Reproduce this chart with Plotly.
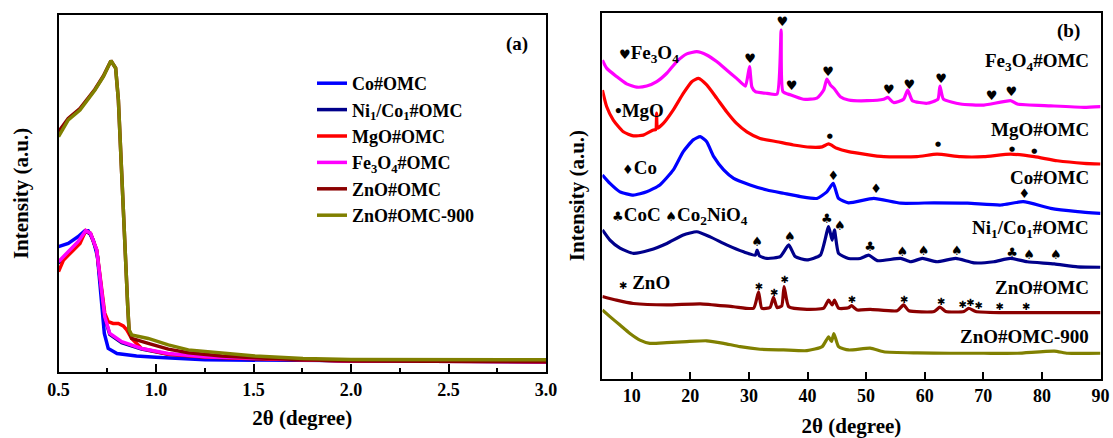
import plotly.graph_objects as go

# ---------------- Panel (a): small-angle XRD ----------------
a_co_x = [0.50, 0.55, 0.60, 0.635, 0.652, 0.678, 0.70, 0.718, 0.735, 0.755, 0.80, 0.90, 1.0, 1.25, 1.75, 2.0, 3.0]
a_co_y = [35.1, 36.0, 37.9, 39.6, 39.6, 37.0, 32.3, 22.0, 10.8, 6.6, 5.2, 4.5, 4.1, 3.4, 3.2, 3.1, 2.9]

a_fe_x = [0.50, 0.55, 0.60, 0.64, 0.664, 0.696, 0.72, 0.737, 0.763, 0.824, 0.926, 1.063, 1.25, 1.51, 2.0, 3.0]
a_fe_y = [30.9, 33.7, 36.5, 39.6, 38.9, 34.2, 23.0, 15.5, 10.8, 8.5, 6.6, 5.2, 4.3, 3.8, 3.1, 2.9]
a_nico_y = [30.5, 33.4, 36.3, 39.4, 38.7, 34.0, 22.8, 15.2, 10.5, 8.2, 6.4, 5.0, 4.2, 3.7, 3.1, 2.9]

a_mgo_x = [0.50, 0.526, 0.568, 0.61, 0.64, 0.664, 0.696, 0.72, 0.737, 0.755, 0.78, 0.807, 0.832, 0.85,
           0.875, 0.926, 1.063, 1.25, 1.51, 2.0, 3.0]
a_mgo_y = [28.1, 31.4, 33.7, 36.0, 39.6, 38.9, 34.2, 23.0, 16.5, 14.1, 13.6, 13.6, 12.9, 11.8,
           9.4, 6.6, 5.0, 4.2, 3.7, 3.1, 2.9]

a_zno_x = [0.50, 0.55, 0.61, 0.687, 0.73, 0.769, 0.793, 0.807, 0.824, 0.841, 0.855, 0.862, 0.875,
           0.96, 1.063, 1.166, 1.337, 1.508, 1.754, 2.0, 3.0]
a_zno_y = [67.3, 71.0, 73.8, 79.2, 82.9, 87.2, 85.1, 76.2, 55.7, 32.3, 18.3, 11.5, 9.4,
           8.0, 6.4, 5.4, 4.5, 4.0, 3.4, 3.1, 2.9]
a_zno9_y = [65.9, 70.6, 73.4, 79.0, 82.7, 87.2, 85.1, 76.2, 55.7, 32.3, 18.3, 11.8, 10.4,
            9.4, 7.6, 6.2, 5.3, 4.5, 3.8, 3.5, 3.4]

# ---------------- Panel (b): wide-angle XRD (stacked) ----------------
b_fe_x = [5.0, 5.72, 7.43, 9.14, 10.85, 12.56, 14.27, 15.98, 17.69, 19.4, 21.1, 22.8, 24.5, 26.2, 27.9,
          29.4, 30.1, 30.5, 31.1, 33.1, 34.8, 35.5, 35.8, 37.06, 39.3, 41.6, 42.76, 43.3, 43.9, 44.6,
          45.6, 47.0, 50.2, 53.0, 53.7, 54.7, 56.4, 57.1, 57.9, 60.4, 62.25, 62.6, 63.2, 66.1, 70.1,
          71.3, 74.7, 75.8, 81.5, 87.2, 90.0]
b_fe_y = [87.0, 84.8, 82.5, 80.5, 79.6, 79.9, 81.1, 83.4, 86.6, 88.7, 89.3, 88.4, 86.6, 84.3, 82.0,
          79.9, 85.2, 79.7, 78.4, 77.9, 77.7, 95.2, 78.4, 77.5, 76.3, 76.6, 78.8, 81.8, 80.2, 79.1,
          77.0, 76.1, 75.9, 76.3, 76.8, 75.4, 76.3, 78.8, 75.9, 75.2, 76.3, 79.9, 76.3, 75.0, 74.7,
          75.0, 75.9, 75.0, 74.5, 74.1, 74.3]

b_mgo_x = [5.0, 5.72, 6.86, 8.57, 10.28, 11.99, 13.7, 14.1, 14.25, 14.4, 15.4, 17.1, 18.8, 20.25, 21.4,
           22.8, 24.5, 26.2, 27.9, 29.65, 31.9, 34.8, 37.6, 40.5, 42.5, 43.6, 45.0, 47.0, 53.0, 58.7,
           62.1, 66.1, 70.1, 74.7, 78.7, 82.6, 87.2, 90.0]
b_mgo_y = [78.8, 74.3, 70.6, 67.4, 66.3, 66.5, 67.9, 68.0, 72.5, 68.4, 69.7, 73.4, 77.9, 81.1, 82.0,
           80.2, 76.6, 72.9, 69.7, 67.4, 65.6, 64.7, 63.8, 63.2, 63.3, 64.1, 62.9, 62.0, 60.6, 60.6,
           61.3, 60.6, 60.6, 61.3, 60.6, 59.5, 58.8, 58.6]

b_co_x = [5.0, 6.29, 8.0, 10.28, 12.56, 14.8, 17.1, 18.8, 20.5, 21.7, 22.8, 24.0, 25.7, 27.4, 30.2,
          33.1, 35.9, 38.8, 41.6, 43.3, 44.4, 45.3, 47.0, 51.3, 55.9, 61.6, 67.3, 73.0, 76.8, 81.5,
          86.1, 90.0]
b_co_y = [55.6, 53.3, 51.0, 50.1, 51.0, 52.9, 57.0, 62.0, 65.2, 66.1, 64.7, 60.6, 57.0, 54.7, 52.9,
          51.5, 50.6, 49.7, 49.2, 51.0, 53.3, 49.2, 48.0, 49.2, 47.9, 48.0, 47.9, 47.4, 48.3, 46.5,
          45.6, 45.1]

b_nico_x = [5.0, 6.29, 8.0, 10.28, 13.1, 16.0, 18.8, 21.1, 23.4, 26.2, 29.1, 31.1, 31.4, 31.8, 33.1,
            35.35, 36.8, 37.9, 39.9, 42.2, 43.6, 44.2, 44.6, 45.3, 47.0, 49.0, 50.45, 51.9, 55.9,
            57.6, 59.6, 62.1, 65.3, 68.4, 71.8, 74.6, 77.5, 82.1, 86.1, 90.0]
b_nico_y = [40.6, 37.8, 35.6, 34.2, 35.1, 36.9, 39.2, 40.1, 38.7, 36.5, 34.6, 33.7, 35.1, 33.5, 32.8,
            33.3, 36.5, 33.3, 32.4, 33.7, 41.5, 37.8, 40.6, 34.2, 32.8, 32.8, 33.7, 32.2, 32.8,
            31.9, 32.8, 31.9, 32.8, 31.6, 31.9, 32.8, 31.9, 31.3, 30.5, 30.4]

b_zno_x = [5.0, 7.4, 10.28, 16.0, 21.7, 27.4, 30.8, 31.65, 32.2, 33.6, 34.2, 34.8, 35.6, 36.0, 36.8,
           39.9, 42.76, 43.6, 44.2, 44.6, 45.3, 47.0, 47.5, 48.5, 50.7, 55.3, 56.4, 57.3, 61.6, 62.6,
           63.6, 66.7, 67.5, 68.7, 73.0, 81.5, 90.0]
b_zno_y = [22.4, 21.4, 20.5, 20.1, 20.4, 19.6, 19.2, 23.7, 19.2, 19.4, 22.2, 19.4, 19.8, 25.1, 19.6,
           18.9, 19.2, 21.4, 20.1, 21.4, 19.2, 19.3, 19.9, 18.7, 18.9, 18.5, 20.1, 18.5, 18.3, 19.5,
           18.3, 18.3, 19.2, 18.3, 18.0, 18.0, 18.0]

b_zno9_x = [5.0, 6.29, 8.0, 9.7, 11.4, 13.1, 16.0, 19.4, 22.8, 25.7, 28.5, 31.9, 35.9, 39.9, 42.5,
            43.6, 44.1, 44.5, 45.3, 47.0, 50.7, 53.0, 58.7, 64.4, 70.1, 75.8, 82.1, 84.4, 90.0]
b_zno9_y = [18.7, 16.9, 14.6, 12.3, 10.5, 9.6, 9.8, 10.1, 10.3, 9.6, 8.7, 8.0, 7.8, 7.6, 8.7,
            11.4, 10.1, 12.3, 8.7, 7.8, 8.3, 7.3, 7.0, 6.9, 6.9, 6.9, 7.5, 6.9, 6.9]

# peak markers
fe_pk_x = [30.2, 35.7, 37.3, 43.5, 53.9, 57.4, 62.8, 71.4, 74.8]
fe_pk_y = [87.0, 97.2, 79.8, 83.5, 78.6, 80.1, 81.7, 77.1, 78.0]
mgo_pk_x = [43.8, 62.3, 74.9, 78.7]
mgo_pk_y = [66.1, 63.9, 62.6, 62.1]
co_pk_x = [44.4, 51.7, 77.0]
co_pk_y = [55.2, 51.6, 50.2]
nico_pk_x = [31.4, 37.0, 43.3, 45.5, 50.7, 56.2, 59.8, 65.5, 74.9, 77.8, 82.4]
nico_pk_y = [37.2, 38.5, 43.5, 41.4, 35.6, 34.4, 34.7, 34.7, 34.2, 33.5, 33.5]
nico_pk_s = ["♠", "♠", "♣", "♠", "♣", "♠", "♠", "♠", "♣", "♠", "♠"]
zno_pk_x = [31.7, 34.3, 36.1, 47.6, 56.5, 62.8, 66.5, 67.8, 69.2, 72.8, 77.3]
zno_pk_y = [24.8, 23.2, 26.7, 21.4, 21.4, 20.7, 20.0, 20.5, 19.8, 19.5, 19.3]

names = ["Co#OMC", "Ni<sub>1</sub>/Co<sub>1</sub>#OMC", "MgO#OMC", "Fe<sub>3</sub>O<sub>4</sub>#OMC",
         "ZnO#OMC", "ZnO#OMC-900"]
colors = {"co": "#0000FF", "nico": "#00008B", "mgo": "#FF0000", "fe": "#FF00FF",
          "zno": "#8B0000", "zno9": "#808000"}

FONT = "Liberation Serif, Times New Roman, serif"
fig = go.Figure()

lw_a = 3.5
fig.add_trace(go.Scatter(x=a_co_x, y=a_co_y, mode="lines", name=names[0],
                         line=dict(color=colors["co"], width=lw_a), xaxis="x", yaxis="y"))
fig.add_trace(go.Scatter(x=a_fe_x, y=a_nico_y, mode="lines", name=names[1],
                         line=dict(color=colors["nico"], width=lw_a), xaxis="x", yaxis="y"))
fig.add_trace(go.Scatter(x=a_mgo_x, y=a_mgo_y, mode="lines", name=names[2],
                         line=dict(color=colors["mgo"], width=lw_a), xaxis="x", yaxis="y"))
fig.add_trace(go.Scatter(x=a_fe_x, y=a_fe_y, mode="lines", name=names[3],
                         line=dict(color=colors["fe"], width=lw_a), xaxis="x", yaxis="y"))
fig.add_trace(go.Scatter(x=a_zno_x, y=a_zno_y, mode="lines", name=names[4],
                         line=dict(color=colors["zno"], width=lw_a), xaxis="x", yaxis="y"))
fig.add_trace(go.Scatter(x=a_zno_x, y=a_zno9_y, mode="lines", name=names[5],
                         line=dict(color=colors["zno9"], width=lw_a), xaxis="x", yaxis="y"))

lw_b = 3.2
for xs, ys, c in [(b_fe_x, b_fe_y, colors["fe"]), (b_mgo_x, b_mgo_y, colors["mgo"]),
                  (b_co_x, b_co_y, colors["co"]), (b_nico_x, b_nico_y, colors["nico"]),
                  (b_zno_x, b_zno_y, colors["zno"]), (b_zno9_x, b_zno9_y, colors["zno9"])]:
    fig.add_trace(go.Scatter(x=xs, y=ys, mode="lines", showlegend=False,
                             line=dict(color=c, width=lw_b, shape="spline", smoothing=0.5),
                             xaxis="x2", yaxis="y2"))

for xs, ys, s in [(fe_pk_x, fe_pk_y, "♥"), (mgo_pk_x, mgo_pk_y, "●"), (co_pk_x, co_pk_y, "♦"),
                  (nico_pk_x, nico_pk_y, nico_pk_s), (zno_pk_x, zno_pk_y, "✱")]:
    txt = s if isinstance(s, list) else [s] * len(xs)
    size = 7 if s == "●" else (10 if s == "✱" else 13)
    fig.add_trace(go.Scatter(x=xs, y=ys, mode="text", text=txt, showlegend=False,
                             textfont=dict(family="DejaVu Sans", size=size, color="black"),
                             xaxis="x2", yaxis="y2", hoverinfo="skip"))

W, H = 1113, 438
axis_common = dict(showline=True, linecolor="black", linewidth=2, mirror=True,
                   showgrid=False, zeroline=False, automargin=False)
tickfont = dict(family=FONT, size=18, color="black", weight="bold")
titlefont = dict(family=FONT, size=21, color="black", weight="bold")
xtitle = "<b>2θ (degree)</b>"
ytitle = "<b>Intensity (a.u.)</b>"

fig.update_layout(
    width=W, height=H, margin=dict(l=0, r=0, t=0, b=0),
    paper_bgcolor="white", plot_bgcolor="white",
    font=dict(family=FONT, color="black"),
    xaxis=dict(domain=[58.5 / W, 546 / W], range=[0.5, 3.0], tick0=0.5, dtick=0.5, tickformat=".1f",
               ticks="inside", ticklen=8, tickwidth=2, tickcolor="black",
               minor=dict(dtick=0.25, ticks="inside", ticklen=4, tickwidth=2, tickcolor="black"),
               tickfont=tickfont, ticklabelstandoff=0,
               title=dict(text=xtitle, font=titlefont, standoff=12),
               anchor="y", **axis_common),
    yaxis=dict(domain=[1 - 372 / H, 1 - 15 / H], range=[0, 100], showticklabels=False, ticks="",
               title=dict(text=ytitle, font=titlefont, standoff=22),
               anchor="x", **axis_common),
    xaxis2=dict(domain=[602.4 / W, 1100.5 / W], range=[5, 90], tick0=10, dtick=10,
                ticks="inside", ticklen=7, tickwidth=2, tickcolor="black",
                tickfont=tickfont, ticklabelstandoff=0,
                title=dict(text=xtitle, font=titlefont, standoff=13),
                anchor="y2", **axis_common),
    yaxis2=dict(domain=[1 - 378.5 / H, 1 - 12.5 / H], range=[0, 100], showticklabels=False, ticks="",
                title=dict(text=ytitle, font=titlefont, standoff=10),
                anchor="x2", **axis_common),
    legend=dict(x=312 / W, y=1 - 65 / H, xanchor="left", yanchor="top",
                font=dict(family=FONT, size=18, color="black", weight="bold"),
                bgcolor="rgba(0,0,0,0)", borderwidth=0, tracegroupgap=0),
)

lab_font = dict(family=FONT, size=19, color="black", weight="bold")
ann = []
ann.append(dict(text="(a)", x=516.9 / W, y=1 - 43.8 / H, xref="paper", yref="paper",
                xanchor="center", yanchor="middle", showarrow=False, font=lab_font))
ann.append(dict(text="(b)", x=1068.8 / W, y=1 - 31 / H, xref="paper", yref="paper",
                xanchor="center", yanchor="middle", showarrow=False, font=lab_font))
right_labels = [("Fe<sub>3</sub>O<sub>4</sub>#OMC", 62), ("MgO#OMC", 130), ("Co#OMC", 177),
                ("Ni<sub>1</sub>/Co<sub>1</sub>#OMC", 229), ("ZnO#OMC", 287.6), ("ZnO#OMC-900", 336)]
for t, yp in right_labels:
    ann.append(dict(text=t, x=1091 / W, y=1 - yp / H, xref="paper", yref="paper",
                    xanchor="right", yanchor="middle", showarrow=False, font=lab_font))
sm = '<span style="font-family:DejaVu Sans;font-size:13px">'
left_labels = [(sm + "♥</span>Fe<sub>3</sub>O<sub>4</sub>", 616.5, 53.5), ("•MgO", 613, 110),
               (sm + "♦</span>Co", 620, 167),
               (sm + "♣</span>CoC " + sm + "♠</span>Co<sub>2</sub>NiO<sub>4</sub>", 609.5, 215.7),
               ('<span style="font-family:DejaVu Sans;font-size:10px">✱</span> ZnO', 616.5, 282.6)]
for t, xp, yp in left_labels:
    ann.append(dict(text=t, x=xp / W, y=1 - yp / H, xref="paper", yref="paper",
                    xanchor="left", yanchor="middle", showarrow=False, font=lab_font))
fig.update_layout(annotations=ann)

fig.write_html("out.html", config={"displayModeBar": False},
               post_script="document.body.style.margin='0';")
